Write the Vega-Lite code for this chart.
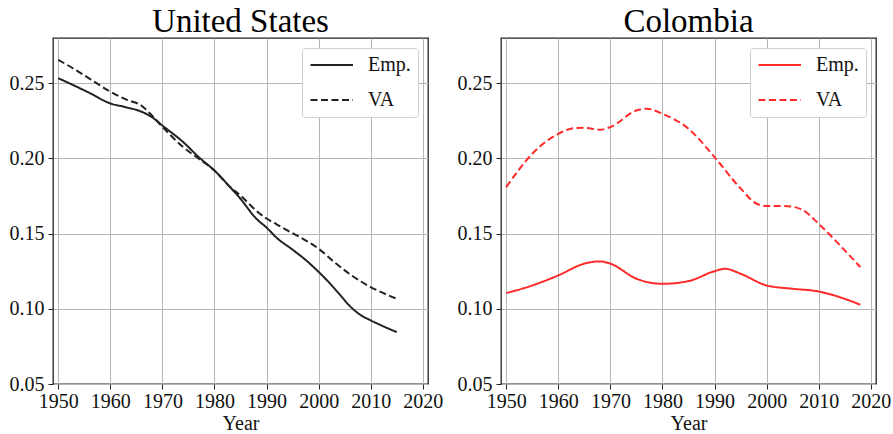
{
  "$schema": "https://vega.github.io/schema/vega-lite/v6.json",
  "background": "white",
  "padding": {"left": 8, "top": 5, "right": 5, "bottom": 0},
  "bounds": "flush",
  "spacing": 73,
  "config": {
    "font": "Liberation Serif",
    "view": {"stroke": "#222222", "strokeWidth": 1.3},
    "title": {"font": "Liberation Serif", "fontSize": 33, "fontWeight": "normal", "color": "#000000", "baseline": "alphabetic", "offset": 0, "dy": 5},
    "axis": {
      "labelFont": "Liberation Serif", "labelFontSize": 20, "labelColor": "#111111",
      "titleFont": "Liberation Serif", "titleFontSize": 20, "titleFontWeight": "normal", "titleColor": "#111111",
      "domain": false, "tickColor": "#222222", "tickSize": 5, "tickWidth": 1,
      "gridColor": "#b5b5b5", "gridWidth": 1, "grid": true
    },
    "legend": {
      "labelFont": "Liberation Serif", "labelFontSize": 20, "labelColor": "#111111",
      "orient": "top-right", "offset": 10, "fillColor": "white", "strokeColor": "#d0d0d0",
      "cornerRadius": 3, "padding": 7, "symbolType": "M-1,0H4", "symbolSize": 289,
      "symbolStrokeWidth": 2, "labelOffset": 39, "rowPadding": 15
    }
  },
  "datasets": {
    "us": [
      {"year": 1950, "value": 0.2533, "series": "Emp."},
      {"year": 1953, "value": 0.2485, "series": "Emp."},
      {"year": 1956, "value": 0.2435, "series": "Emp."},
      {"year": 1960, "value": 0.2365, "series": "Emp."},
      {"year": 1963, "value": 0.2340, "series": "Emp."},
      {"year": 1966, "value": 0.2310, "series": "Emp."},
      {"year": 1968, "value": 0.2274, "series": "Emp."},
      {"year": 1970, "value": 0.2218, "series": "Emp."},
      {"year": 1974, "value": 0.2108, "series": "Emp."},
      {"year": 1977, "value": 0.2008, "series": "Emp."},
      {"year": 1980, "value": 0.1919, "series": "Emp."},
      {"year": 1983, "value": 0.1809, "series": "Emp."},
      {"year": 1985, "value": 0.1731, "series": "Emp."},
      {"year": 1988, "value": 0.1600, "series": "Emp."},
      {"year": 1990, "value": 0.1540, "series": "Emp."},
      {"year": 1992, "value": 0.1470, "series": "Emp."},
      {"year": 1995, "value": 0.1393, "series": "Emp."},
      {"year": 1998, "value": 0.1310, "series": "Emp."},
      {"year": 2000, "value": 0.1245, "series": "Emp."},
      {"year": 2002, "value": 0.1175, "series": "Emp."},
      {"year": 2004, "value": 0.1097, "series": "Emp."},
      {"year": 2006, "value": 0.1018, "series": "Emp."},
      {"year": 2008, "value": 0.0960, "series": "Emp."},
      {"year": 2010, "value": 0.0923, "series": "Emp."},
      {"year": 2012, "value": 0.0890, "series": "Emp."},
      {"year": 2015, "value": 0.0845, "series": "Emp."},
      {"year": 1950, "value": 0.2655, "series": "VA"},
      {"year": 1953, "value": 0.2595, "series": "VA"},
      {"year": 1956, "value": 0.2530, "series": "VA"},
      {"year": 1960, "value": 0.2444, "series": "VA"},
      {"year": 1963, "value": 0.2392, "series": "VA"},
      {"year": 1966, "value": 0.2350, "series": "VA"},
      {"year": 1968, "value": 0.2285, "series": "VA"},
      {"year": 1970, "value": 0.2210, "series": "VA"},
      {"year": 1974, "value": 0.2075, "series": "VA"},
      {"year": 1977, "value": 0.1997, "series": "VA"},
      {"year": 1980, "value": 0.1919, "series": "VA"},
      {"year": 1983, "value": 0.1809, "series": "VA"},
      {"year": 1985, "value": 0.1753, "series": "VA"},
      {"year": 1988, "value": 0.1653, "series": "VA"},
      {"year": 1990, "value": 0.1600, "series": "VA"},
      {"year": 1992, "value": 0.1560, "series": "VA"},
      {"year": 1994, "value": 0.1521, "series": "VA"},
      {"year": 1997, "value": 0.1465, "series": "VA"},
      {"year": 2000, "value": 0.1399, "series": "VA"},
      {"year": 2003, "value": 0.1310, "series": "VA"},
      {"year": 2006, "value": 0.1230, "series": "VA"},
      {"year": 2010, "value": 0.1144, "series": "VA"},
      {"year": 2013, "value": 0.1095, "series": "VA"},
      {"year": 2015, "value": 0.1067, "series": "VA"}
    ],
    "co": [
      {"year": 1950, "value": 0.1104, "series": "Emp."},
      {"year": 1955, "value": 0.1155, "series": "Emp."},
      {"year": 1960, "value": 0.1222, "series": "Emp."},
      {"year": 1965, "value": 0.1300, "series": "Emp."},
      {"year": 1968, "value": 0.1315, "series": "Emp."},
      {"year": 1970, "value": 0.1300, "series": "Emp."},
      {"year": 1975, "value": 0.1200, "series": "Emp."},
      {"year": 1980, "value": 0.1166, "series": "Emp."},
      {"year": 1985, "value": 0.1184, "series": "Emp."},
      {"year": 1990, "value": 0.1250, "series": "Emp."},
      {"year": 1992, "value": 0.1266, "series": "Emp."},
      {"year": 1995, "value": 0.1233, "series": "Emp."},
      {"year": 2000, "value": 0.1155, "series": "Emp."},
      {"year": 2005, "value": 0.1133, "series": "Emp."},
      {"year": 2010, "value": 0.1115, "series": "Emp."},
      {"year": 2015, "value": 0.1066, "series": "Emp."},
      {"year": 2018, "value": 0.1027, "series": "Emp."},
      {"year": 1950, "value": 0.1809, "series": "VA"},
      {"year": 1955, "value": 0.2030, "series": "VA"},
      {"year": 1960, "value": 0.2163, "series": "VA"},
      {"year": 1963, "value": 0.2200, "series": "VA"},
      {"year": 1965, "value": 0.2203, "series": "VA"},
      {"year": 1968, "value": 0.2190, "series": "VA"},
      {"year": 1970, "value": 0.2208, "series": "VA"},
      {"year": 1975, "value": 0.2318, "series": "VA"},
      {"year": 1977, "value": 0.2330, "series": "VA"},
      {"year": 1980, "value": 0.2296, "series": "VA"},
      {"year": 1985, "value": 0.2197, "series": "VA"},
      {"year": 1990, "value": 0.2008, "series": "VA"},
      {"year": 1995, "value": 0.1800, "series": "VA"},
      {"year": 1998, "value": 0.1700, "series": "VA"},
      {"year": 2000, "value": 0.1683, "series": "VA"},
      {"year": 2003, "value": 0.1683, "series": "VA"},
      {"year": 2005, "value": 0.1678, "series": "VA"},
      {"year": 2007, "value": 0.1655, "series": "VA"},
      {"year": 2010, "value": 0.1565, "series": "VA"},
      {"year": 2015, "value": 0.1388, "series": "VA"},
      {"year": 2018, "value": 0.1277, "series": "VA"}
    ]
  },
  "hconcat": [
    {
      "title": "United States",
      "width": 375, "height": 346,
      "data": {"name": "us"},
      "mark": {"type": "line", "interpolate": "monotone", "strokeWidth": 2, "color": "#222222", "clip": true},
      "encoding": {
        "x": {"field": "year", "type": "quantitative", "scale": {"domain": [1949, 2021], "nice": false, "zero": false},
              "axis": {"title": "Year", "values": [1950, 1960, 1970, 1980, 1990, 2000, 2010, 2020], "format": "d", "labelPadding": 2, "titlePadding": 2}},
        "y": {"field": "value", "type": "quantitative", "scale": {"domain": [0.05, 0.28], "nice": false, "zero": false},
              "axis": {"title": null, "values": [0.05, 0.10, 0.15, 0.20, 0.25], "format": ".2f", "labelPadding": 4}},
        "strokeDash": {"field": "series", "type": "nominal",
                       "scale": {"domain": ["Emp.", "VA"], "range": [[1, 0], [7, 3.5]]},
                       "legend": {"title": null, "symbolStrokeColor": "#222222"}}
      }
    },
    {
      "title": "Colombia",
      "width": 375, "height": 346,
      "data": {"name": "co"},
      "mark": {"type": "line", "interpolate": "monotone", "strokeWidth": 2, "color": "#ff2a2a", "clip": true},
      "encoding": {
        "x": {"field": "year", "type": "quantitative", "scale": {"domain": [1949, 2021], "nice": false, "zero": false},
              "axis": {"title": "Year", "values": [1950, 1960, 1970, 1980, 1990, 2000, 2010, 2020], "format": "d", "labelPadding": 2, "titlePadding": 2}},
        "y": {"field": "value", "type": "quantitative", "scale": {"domain": [0.05, 0.28], "nice": false, "zero": false},
              "axis": {"title": null, "values": [0.05, 0.10, 0.15, 0.20, 0.25], "format": ".2f", "labelPadding": 4}},
        "strokeDash": {"field": "series", "type": "nominal",
                       "scale": {"domain": ["Emp.", "VA"], "range": [[1, 0], [7, 3.5]]},
                       "legend": {"title": null, "symbolStrokeColor": "#ff2a2a"}}
      }
    }
  ],
  "resolve": {"scale": {"strokeDash": "independent"}, "legend": {"strokeDash": "independent"}}
}
